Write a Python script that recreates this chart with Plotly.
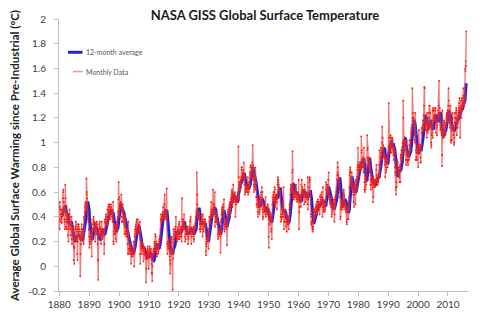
import numpy as np
import pandas as pd
import plotly.graph_objects as go

# Monthly global surface temperature, warming relative to pre-industrial (deg C).
# One list per decade, January first, twelve values per year.
m1880s = [
    0.38, 0.30, 0.52, 0.48, 0.46, 0.36, 0.42, 0.46, 0.40, 0.38, 0.35, 0.40,
    0.40, 0.45, 0.55, 0.60, 0.62, 0.44, 0.52, 0.47, 0.38, 0.36, 0.30, 0.44,
    0.66, 0.55, 0.48, 0.32, 0.38, 0.30, 0.36, 0.44, 0.42, 0.40, 0.38, 0.25,
    0.30, 0.20, 0.32, 0.38, 0.42, 0.46, 0.40, 0.38, 0.30, 0.33, 0.25, 0.36,
    0.33, 0.40, 0.22, 0.18, 0.26, 0.28, 0.30, 0.32, 0.24, 0.05, 0.16, 0.20,
    0.02, 0.15, 0.22, 0.24, 0.30, 0.32, 0.36, 0.30, 0.24, 0.28, 0.20, 0.34,
    0.10, 0.05, 0.20, 0.30, 0.32, 0.28, 0.34, 0.26, 0.30, 0.22, 0.24, 0.28,
    -0.08, 0.10, 0.18, 0.22, 0.26, 0.30, 0.34, 0.28, 0.30, 0.26, 0.24, 0.22,
    0.20, 0.24, 0.18, 0.40, 0.38, 0.40, 0.44, 0.48, 0.50, 0.52, 0.44, 0.46,
    0.50, 0.71, 0.58, 0.60, 0.55, 0.48, 0.40, 0.44, 0.38, 0.36, 0.30, 0.36,
]
m1890s = [
    0.24, 0.15, 0.20, 0.22, 0.18, 0.26, 0.24, 0.20, 0.22, 0.28, 0.08, 0.30,
    0.22, 0.26, 0.30, 0.34, 0.38, 0.36, 0.40, 0.34, 0.36, 0.32, 0.28, 0.30,
    0.20, 0.35, 0.28, 0.30, 0.26, 0.32, 0.36, 0.34, 0.30, 0.26, 0.18, 0.05,
    -0.11, 0.05, 0.24, 0.30, 0.34, 0.30, 0.36, 0.32, 0.30, 0.28, 0.26, 0.30,
    0.18, 0.26, 0.36, 0.30, 0.28, 0.22, 0.26, 0.30, 0.28, 0.30, 0.24, 0.26,
    0.10, 0.18, 0.30, 0.38, 0.36, 0.35, 0.38, 0.42, 0.40, 0.36, 0.33, 0.35,
    0.40, 0.46, 0.34, 0.38, 0.44, 0.48, 0.50, 0.46, 0.48, 0.50, 0.40, 0.44,
    0.38, 0.42, 0.46, 0.50, 0.48, 0.44, 0.42, 0.46, 0.40, 0.40, 0.36, 0.38,
    0.52, 0.20, 0.18, 0.28, 0.26, 0.32, 0.30, 0.34, 0.30, 0.26, 0.22, 0.30,
    0.34, 0.20, 0.28, 0.36, 0.30, 0.36, 0.38, 0.40, 0.44, 0.54, 0.68, 0.42,
]
m1900s = [
    0.40, 0.56, 0.50, 0.46, 0.48, 0.50, 0.52, 0.48, 0.50, 0.58, 0.40, 0.36,
    0.44, 0.36, 0.50, 0.46, 0.42, 0.40, 0.38, 0.40, 0.36, 0.34, 0.26, 0.32,
    0.40, 0.42, 0.28, 0.26, 0.24, 0.30, 0.30, 0.28, 0.26, 0.24, 0.18, 0.10,
    0.28, 0.36, 0.22, 0.14, 0.10, 0.12, 0.18, 0.14, 0.16, 0.12, 0.18, 0.10,
    0.02, 0.10, 0.12, 0.08, 0.12, 0.10, 0.08, 0.10, 0.12, 0.14, 0.20, 0.12,
    0.12, 0.00, 0.24, 0.26, 0.30, 0.28, 0.32, 0.30, 0.34, 0.30, 0.36, 0.38,
    0.30, 0.26, 0.28, 0.38, 0.32, 0.30, 0.34, 0.32, 0.30, 0.28, 0.26, 0.36,
    0.10, 0.02, 0.22, 0.16, 0.10, 0.14, 0.18, 0.16, 0.20, 0.18, 0.12, 0.16,
    0.16, 0.10, 0.04, 0.14, 0.16, 0.14, 0.12, 0.14, 0.12, 0.10, 0.06, 0.08,
    -0.13, -0.02, 0.06, 0.08, 0.10, 0.12, 0.14, 0.16, 0.12, 0.10, 0.08, -0.02,
]
m1910s = [
    0.10, 0.12, 0.14, 0.16, 0.12, 0.08, 0.10, 0.12, 0.14, 0.10, 0.02, -0.05,
    -0.06, -0.12, 0.00, 0.08, 0.10, 0.12, 0.14, 0.10, 0.12, 0.14, 0.20, 0.18,
    0.16, 0.26, 0.12, 0.24, 0.20, 0.18, 0.14, 0.10, 0.08, 0.14, 0.18, 0.16,
    0.14, 0.10, 0.12, 0.18, 0.20, 0.22, 0.18, 0.20, 0.22, 0.24, 0.30, 0.38,
    0.42, 0.36, 0.34, 0.38, 0.40, 0.42, 0.38, 0.44, 0.40, 0.48, 0.42, 0.38,
    0.38, 0.50, 0.40, 0.58, 0.46, 0.40, 0.44, 0.42, 0.38, 0.40, 0.44, 0.63,
    0.40, 0.18, 0.10, 0.20, 0.16, 0.14, 0.20, 0.22, 0.18, 0.16, 0.12, 0.08,
    0.05, -0.06, 0.02, 0.10, 0.18, 0.16, 0.22, 0.24, 0.20, 0.10, 0.12, -0.19,
    0.14, 0.06, 0.30, 0.22, 0.26, 0.20, 0.24, 0.28, 0.24, 0.30, 0.32, 0.28,
    0.40, 0.26, 0.24, 0.28, 0.22, 0.20, 0.26, 0.28, 0.30, 0.32, 0.22, 0.24,
]
m1920s = [
    0.34, 0.26, 0.36, 0.22, 0.24, 0.26, 0.30, 0.28, 0.32, 0.26, 0.24, 0.20,
    0.55, 0.30, 0.32, 0.38, 0.36, 0.30, 0.38, 0.34, 0.36, 0.42, 0.30, 0.34,
    0.24, 0.20, 0.30, 0.26, 0.22, 0.28, 0.30, 0.26, 0.28, 0.30, 0.32, 0.26,
    0.26, 0.18, 0.24, 0.22, 0.28, 0.30, 0.32, 0.30, 0.32, 0.36, 0.38, 0.40,
    0.30, 0.26, 0.18, 0.24, 0.28, 0.26, 0.30, 0.28, 0.26, 0.30, 0.24, 0.32,
    0.20, 0.22, 0.28, 0.30, 0.32, 0.30, 0.34, 0.32, 0.36, 0.40, 0.44, 0.46,
    0.76, 0.50, 0.58, 0.44, 0.42, 0.40, 0.38, 0.42, 0.40, 0.44, 0.38, 0.30,
    0.34, 0.30, 0.28, 0.32, 0.30, 0.34, 0.36, 0.38, 0.40, 0.42, 0.36, 0.24,
    0.42, 0.38, 0.30, 0.28, 0.32, 0.34, 0.36, 0.38, 0.34, 0.36, 0.38, 0.32,
    0.12, 0.09, 0.18, 0.16, 0.20, 0.22, 0.24, 0.22, 0.24, 0.26, 0.28, 0.14,
]
m1930s = [
    0.28, 0.30, 0.40, 0.36, 0.34, 0.36, 0.38, 0.40, 0.42, 0.44, 0.52, 0.40,
    0.46, 0.40, 0.42, 0.40, 0.42, 0.62, 0.50, 0.48, 0.46, 0.50, 0.42, 0.48,
    0.60, 0.32, 0.36, 0.40, 0.38, 0.36, 0.38, 0.40, 0.44, 0.40, 0.34, 0.36,
    0.26, 0.22, 0.24, 0.28, 0.30, 0.28, 0.30, 0.28, 0.26, 0.28, 0.24, 0.11,
    0.36, 0.30, 0.38, 0.42, 0.44, 0.46, 0.48, 0.46, 0.44, 0.46, 0.50, 0.48,
    0.40, 0.54, 0.30, 0.28, 0.34, 0.32, 0.36, 0.34, 0.38, 0.36, 0.32, 0.30,
    0.32, 0.17, 0.40, 0.40, 0.42, 0.44, 0.46, 0.42, 0.44, 0.46, 0.48, 0.50,
    0.48, 0.52, 0.40, 0.50, 0.52, 0.54, 0.56, 0.58, 0.60, 0.62, 0.56, 0.48,
    0.58, 0.60, 0.66, 0.58, 0.54, 0.52, 0.54, 0.56, 0.58, 0.60, 0.56, 0.40,
    0.52, 0.54, 0.50, 0.52, 0.56, 0.54, 0.56, 0.52, 0.54, 0.58, 0.60, 0.97,
]
m1940s = [
    0.55, 0.72, 0.66, 0.68, 0.64, 0.66, 0.68, 0.62, 0.70, 0.64, 0.72, 0.80,
    0.78, 0.80, 0.72, 0.74, 0.70, 0.76, 0.78, 0.74, 0.70, 0.84, 0.72, 0.66,
    0.74, 0.58, 0.60, 0.62, 0.64, 0.60, 0.62, 0.60, 0.64, 0.62, 0.66, 0.64,
    0.60, 0.72, 0.58, 0.66, 0.62, 0.60, 0.68, 0.64, 0.66, 0.76, 0.74, 0.80,
    0.82, 0.76, 0.72, 0.74, 0.76, 0.78, 0.80, 0.84, 0.98, 0.82, 0.72, 0.70,
    0.72, 0.60, 0.66, 0.74, 0.64, 0.62, 0.64, 0.80, 0.70, 0.68, 0.56, 0.50,
    0.56, 0.50, 0.48, 0.56, 0.44, 0.40, 0.50, 0.48, 0.52, 0.50, 0.54, 0.42,
    0.44, 0.46, 0.52, 0.56, 0.50, 0.54, 0.60, 0.58, 0.54, 0.64, 0.56, 0.46,
    0.60, 0.38, 0.40, 0.44, 0.50, 0.48, 0.44, 0.46, 0.44, 0.46, 0.48, 0.42,
    0.56, 0.40, 0.48, 0.44, 0.46, 0.42, 0.44, 0.46, 0.48, 0.50, 0.44, 0.42,
]
m1950s = [
    0.24, 0.15, 0.40, 0.34, 0.38, 0.44, 0.42, 0.40, 0.42, 0.36, 0.28, 0.40,
    0.30, 0.22, 0.40, 0.50, 0.56, 0.52, 0.54, 0.58, 0.60, 0.58, 0.52, 0.60,
    0.64, 0.62, 0.48, 0.56, 0.52, 0.54, 0.56, 0.58, 0.56, 0.52, 0.46, 0.58,
    0.66, 0.72, 0.68, 0.70, 0.66, 0.64, 0.60, 0.62, 0.60, 0.62, 0.56, 0.58,
    0.40, 0.52, 0.36, 0.42, 0.38, 0.40, 0.42, 0.40, 0.46, 0.48, 0.52, 0.40,
    0.64, 0.40, 0.30, 0.36, 0.42, 0.44, 0.42, 0.46, 0.44, 0.40, 0.32, 0.36,
    0.38, 0.28, 0.36, 0.34, 0.36, 0.40, 0.38, 0.34, 0.36, 0.30, 0.38, 0.46,
    0.50, 0.48, 0.52, 0.58, 0.62, 0.66, 0.60, 0.64, 0.62, 0.60, 0.64, 0.76,
    0.93, 0.78, 0.60, 0.56, 0.58, 0.54, 0.60, 0.56, 0.58, 0.60, 0.58, 0.56,
    0.64, 0.60, 0.66, 0.58, 0.54, 0.58, 0.56, 0.52, 0.54, 0.56, 0.58, 0.60,
]
m1960s = [
    0.56, 0.70, 0.30, 0.44, 0.48, 0.52, 0.54, 0.56, 0.58, 0.54, 0.48, 0.66,
    0.60, 0.70, 0.62, 0.64, 0.60, 0.62, 0.58, 0.60, 0.62, 0.58, 0.56, 0.50,
    0.62, 0.66, 0.58, 0.56, 0.52, 0.58, 0.60, 0.56, 0.58, 0.60, 0.56, 0.54,
    0.50, 0.72, 0.46, 0.54, 0.56, 0.58, 0.64, 0.68, 0.70, 0.72, 0.70, 0.58,
    0.50, 0.42, 0.40, 0.34, 0.36, 0.34, 0.36, 0.32, 0.30, 0.28, 0.32, 0.30,
    0.46, 0.36, 0.44, 0.38, 0.46, 0.44, 0.46, 0.40, 0.44, 0.48, 0.42, 0.50,
    0.46, 0.48, 0.52, 0.42, 0.46, 0.52, 0.54, 0.50, 0.52, 0.48, 0.50, 0.46,
    0.50, 0.42, 0.56, 0.52, 0.58, 0.50, 0.54, 0.56, 0.52, 0.60, 0.56, 0.52,
    0.40, 0.48, 0.64, 0.50, 0.44, 0.46, 0.48, 0.46, 0.48, 0.52, 0.44, 0.46,
    0.52, 0.50, 0.62, 0.68, 0.66, 0.64, 0.60, 0.58, 0.62, 0.60, 0.66, 0.70,
]
m1970s = [
    0.62, 0.76, 0.56, 0.58, 0.54, 0.56, 0.52, 0.50, 0.56, 0.54, 0.56, 0.48,
    0.48, 0.40, 0.42, 0.46, 0.48, 0.44, 0.50, 0.52, 0.50, 0.48, 0.54, 0.50,
    0.36, 0.42, 0.54, 0.56, 0.54, 0.58, 0.56, 0.60, 0.58, 0.62, 0.60, 0.70,
    0.74, 0.84, 0.80, 0.76, 0.74, 0.72, 0.70, 0.68, 0.66, 0.64, 0.62, 0.56,
    0.38, 0.40, 0.46, 0.48, 0.50, 0.52, 0.48, 0.54, 0.50, 0.46, 0.52, 0.48,
    0.58, 0.60, 0.62, 0.56, 0.58, 0.52, 0.50, 0.46, 0.52, 0.48, 0.46, 0.44,
    0.48, 0.36, 0.34, 0.44, 0.38, 0.44, 0.48, 0.46, 0.50, 0.38, 0.52, 0.56,
    0.64, 0.74, 0.76, 0.78, 0.80, 0.76, 0.72, 0.70, 0.66, 0.64, 0.76, 0.62,
    0.64, 0.62, 0.66, 0.60, 0.58, 0.52, 0.60, 0.48, 0.62, 0.58, 0.68, 0.66,
    0.64, 0.50, 0.70, 0.66, 0.64, 0.68, 0.62, 0.72, 0.78, 0.80, 0.82, 0.96,
]
m1980s = [
    0.80, 0.72, 0.76, 0.82, 0.84, 0.80, 0.78, 0.80, 0.82, 0.80, 0.84, 0.78,
    1.05, 0.92, 0.94, 0.86, 0.80, 0.84, 0.86, 0.88, 0.80, 0.76, 0.82, 0.96,
    0.62, 0.68, 0.60, 0.64, 0.70, 0.62, 0.68, 0.66, 0.72, 0.70, 0.74, 0.88,
    1.06, 0.94, 0.96, 0.86, 0.86, 0.82, 0.80, 0.84, 0.88, 0.76, 0.86, 0.76,
    0.80, 0.66, 0.70, 0.62, 0.76, 0.66, 0.68, 0.72, 0.70, 0.68, 0.64, 0.52,
    0.72, 0.56, 0.70, 0.68, 0.70, 0.66, 0.64, 0.70, 0.66, 0.68, 0.66, 0.70,
    0.78, 0.82, 0.74, 0.72, 0.70, 0.68, 0.66, 0.70, 0.68, 0.72, 0.74, 0.72,
    0.82, 0.94, 0.72, 0.82, 0.84, 0.88, 0.96, 0.88, 0.92, 0.90, 0.86, 1.00,
    1.13, 0.94, 1.04, 0.96, 0.98, 0.96, 0.90, 0.92, 0.88, 0.90, 0.82, 0.90,
    0.72, 0.84, 0.86, 0.80, 0.76, 0.78, 0.86, 0.88, 0.86, 0.84, 0.80, 0.90,
]
m1990s = [
    0.92, 0.96, 1.32, 1.04, 0.98, 0.96, 0.94, 0.96, 0.92, 1.04, 1.06, 0.98,
    0.96, 1.04, 0.92, 1.02, 0.96, 1.04, 1.02, 0.98, 0.94, 0.90, 0.86, 0.92,
    0.96, 0.92, 0.94, 0.80, 0.76, 0.74, 0.62, 0.64, 0.58, 0.68, 0.64, 0.78,
    0.86, 0.84, 0.84, 0.80, 0.78, 0.76, 0.80, 0.76, 0.72, 0.80, 0.68, 0.78,
    0.82, 0.68, 0.88, 0.90, 0.86, 0.94, 0.88, 0.86, 0.90, 0.96, 1.00, 0.94,
    1.34, 1.20, 1.02, 1.00, 0.92, 0.98, 1.02, 1.00, 0.94, 1.02, 0.98, 0.86,
    0.82, 1.02, 0.90, 0.92, 0.86, 0.84, 0.90, 0.86, 0.82, 0.86, 0.90, 0.92,
    0.86, 0.98, 1.02, 0.92, 0.96, 1.02, 0.96, 1.00, 1.08, 1.12, 1.10, 1.14,
    1.14, 1.44, 1.20, 1.20, 1.18, 1.24, 1.20, 1.18, 1.08, 1.06, 1.02, 1.08,
    1.00, 1.24, 0.86, 0.94, 0.86, 0.88, 0.92, 0.86, 0.92, 0.92, 0.96, 0.98,
]
m2000s = [
    0.80, 0.98, 0.98, 1.10, 0.96, 0.94, 0.92, 0.98, 0.94, 0.84, 0.88, 0.84,
    0.96, 0.98, 1.12, 1.08, 1.12, 1.08, 1.14, 1.18, 1.10, 1.10, 1.22, 1.14,
    1.30, 1.45, 1.44, 1.16, 1.18, 1.12, 1.16, 1.10, 1.16, 1.10, 1.14, 1.04,
    1.24, 1.10, 1.12, 1.08, 1.14, 1.10, 1.14, 1.24, 1.20, 1.30, 1.12, 1.30,
    1.14, 1.24, 1.14, 1.14, 0.96, 1.00, 0.98, 1.06, 1.08, 1.18, 1.26, 1.04,
    1.28, 1.14, 1.26, 1.26, 1.20, 1.22, 1.20, 1.18, 1.28, 1.26, 1.28, 1.20,
    1.08, 1.18, 1.16, 1.12, 1.06, 1.18, 1.14, 1.22, 1.20, 1.26, 1.24, 1.30,
    1.50, 1.22, 1.24, 1.28, 1.16, 1.10, 1.14, 1.12, 1.12, 1.14, 1.08, 1.06,
    0.81, 0.90, 1.26, 1.06, 1.04, 1.06, 1.10, 1.04, 1.14, 1.18, 1.16, 1.06,
    1.12, 1.06, 1.08, 1.12, 1.14, 1.20, 1.22, 1.24, 1.22, 1.18, 1.26, 1.16,
]
m2010s = [
    1.24, 1.30, 1.44, 1.34, 1.26, 1.18, 1.18, 1.16, 1.12, 1.20, 1.30, 1.02,
    1.00, 1.02, 1.10, 1.14, 1.02, 1.14, 1.20, 1.24, 1.12, 1.14, 1.06, 1.10,
    0.98, 1.00, 1.04, 1.16, 1.24, 1.20, 1.16, 1.20, 1.24, 1.28, 1.26, 1.06,
    1.20, 1.12, 1.22, 1.12, 1.16, 1.24, 1.18, 1.26, 1.32, 1.28, 1.36, 1.28,
    1.24, 1.04, 1.26, 1.30, 1.34, 1.28, 1.20, 1.36, 1.34, 1.30, 1.26, 1.32,
    1.38, 1.36, 1.44, 1.30, 1.32, 1.36, 1.30, 1.32, 1.38, 1.60, 1.58, 1.66,
    1.62, 1.90,
]

first_year = 1880
decade_ticks = [1880, 1890, 1900, 1910, 1920, 1930, 1940, 1950, 1960, 1970, 1980, 1990, 2000, 2010]
temp_ticks = [-0.2, 0, 0.2, 0.4, 0.6, 0.8, 1, 1.2, 1.4, 1.6, 1.8, 2]
temp_tick_text = ["-0.2", "0", "0.2", "0.4", "0.6", "0.8", "1", "1.2", "1.4", "1.6", "1.8", "2"]

monthly = pd.Series(
    m1880s + m1890s + m1900s + m1910s + m1920s + m1930s + m1940s
    + m1950s + m1960s + m1970s + m1980s + m1990s + m2000s + m2010s
)
t = first_year + np.arange(len(monthly)) / 12.0
avg12 = monthly.rolling(12).mean()

BLUE = "rgb(34,34,222)"
PINK = "rgba(228,64,64,0.68)"
RED = "rgb(255,20,0)"

fig = go.Figure()
fig.add_trace(go.Scatter(
    x=t, y=avg12, mode="lines", name="12-month average",
    line=dict(color=BLUE, width=3), showlegend=False,
))
fig.add_trace(go.Scatter(
    x=t, y=monthly, mode="lines+markers", name="Monthly Data",
    line=dict(color=PINK, width=1.4),
    marker=dict(color=RED, size=1.8, line=dict(width=0)),
    showlegend=False,
))

# plot area in pixels: x 59..468, y 13..295
L, R, T, B = 59, 12, 13, 27
W, H = 480 - L - R, 322 - T - B
def px(xp):
    return (xp - L) / W
def py(yp):
    return (322 - B - yp) / H

# hand-made legend in the upper left
legend_items = [("12-month average", BLUE, 68, 47.5), ("Monthly Data", "rgb(228,150,150)", 73, 67.5)]
shapes = []
annotations = []
for label, col, x0, yy in legend_items:
    shapes.append(dict(type="line", xref="paper", yref="paper",
                       x0=px(x0), x1=px(82.5), y0=py(yy), y1=py(yy),
                       line=dict(color=col, width=3 if col == BLUE else 1.5)))
    annotations.append(dict(text=label, xref="paper", yref="paper",
                            x=px(84), y=py(yy), xanchor="left", yanchor="middle",
                            showarrow=False, font=dict(family="Lato", size=7, color="#595959")))

annotations.append(dict(
    text="<b>Average Global Surface Warming since Pre-Industrial (°C)</b>",
    xref="paper", yref="paper", x=px(15), y=py(155), textangle=-90,
    xanchor="center", yanchor="middle", showarrow=False,
    font=dict(family="Lato", size=11.5, color="#222222"),
))

fig.update_layout(
    width=480, height=322,
    margin=dict(l=L, r=R, t=T, b=B),
    paper_bgcolor="white", plot_bgcolor="white",
    title=dict(text="<b>NASA GISS Global Surface Temperature</b>",
               x=265 / 480, xanchor="center", xref="container",
               y=1 - 15 / 322, yanchor="middle", yref="container",
               font=dict(family="Lato", size=13, color="#1a1a1a")),
    xaxis=dict(range=[1879.9, 2016.7], tickmode="array", tickvals=decade_ticks,
               showgrid=False, zeroline=False, showline=True, linecolor="#bfbfbf",
               linewidth=1, ticks="outside", ticklen=4, tickcolor="#bfbfbf",
               tickfont=dict(family="Lato", size=10, color="#404040")),
    yaxis=dict(range=[-0.2, 2.0], tickmode="array", tickvals=temp_ticks,
               ticktext=temp_tick_text, showgrid=False, zeroline=False,
               showline=True, linecolor="#bfbfbf", linewidth=1,
               ticks="outside", ticklen=4, tickcolor="#bfbfbf",
               ticklabelstandoff=6,
               tickfont=dict(family="Lato", size=10, color="#404040")),
    shapes=shapes, annotations=annotations,
)

fig.write_html("out.html")
